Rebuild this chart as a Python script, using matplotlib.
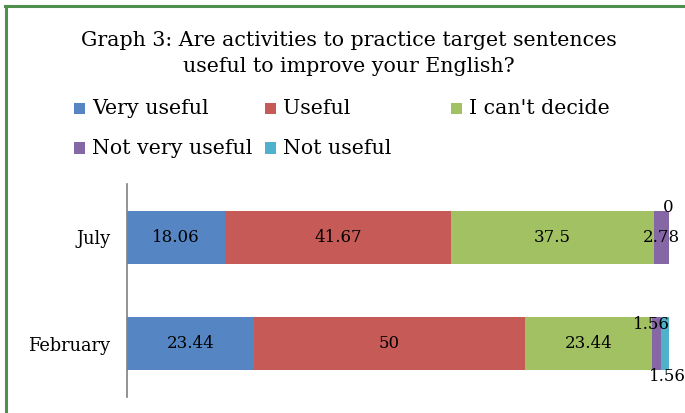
import matplotlib
matplotlib.use("Agg")
import matplotlib.pyplot as plt
from matplotlib.patches import Rectangle
from matplotlib.lines import Line2D

categories = ["February", "July"]
series_names = ["Very useful", "Useful", "I can't decide", "Not very useful", "Not useful"]
very_useful = [23.44, 18.06]
useful = [50, 41.67]
cant_decide = [23.44, 37.5]
not_very_useful = [1.56, 2.78]
not_useful = [1.56, 0]
colors = ["#5585C2", "#C55A56", "#A1C163", "#8567A6", "#4FB1CB"]

series = [very_useful, useful, cant_decide, not_very_useful, not_useful]

W, H = 685, 413
fig = plt.figure(figsize=(W / 100, H / 100), dpi=100)
plt.rcParams['font.family'] = ['DejaVu Serif']

def fx(px):
    return px / W

def fy(py):
    return 1 - py / H

ax = fig.add_axes([fx(127), fy(397), fx(669) - fx(127), fy(184) - fy(397)])

ypos = list(range(len(categories)))
left = [0.0] * len(categories)
bars = []
for vals, col in zip(series, colors):
    b = ax.barh(ypos, vals, left=left, height=0.5, color=col, edgecolor='none')
    bars.append(b)
    left = [l + v for l, v in zip(left, vals)]

ax.set_xlim(0, 100)
ax.set_ylim(-0.5, 1.5)
ax.set_yticks(ypos)
ax.set_yticklabels(categories, fontsize=12.8)
ax.tick_params(axis='y', length=0, pad=12)
ax.set_xticks([])
for s in ['top', 'right', 'bottom']:
    ax.spines[s].set_visible(False)
ax.spines['left'].set_color('#808080')
ax.spines['left'].set_linewidth(1.2)

lab_fs = 12
# labels for the three big segments, centered
for si in range(3):
    for ci, rect in enumerate(bars[si]):
        v = series[si][ci]
        cx = rect.get_x() + rect.get_width() / 2
        ax.text(cx, ci, f"{v:g}", ha='center', va='center', fontsize=lab_fs, color='black')

# small segment labels
# July (index 1)
r = bars[3][1]
ax.text(r.get_x() + r.get_width() / 2, 1, f"{not_very_useful[1]:g}", ha='center', va='center', fontsize=lab_fs)
r = bars[4][1]
ax.text(r.get_x() - 0.2, 1.28, f"{not_useful[1]:g}", ha='center', va='center', fontsize=lab_fs)
# February (index 0)
r = bars[3][0]
ax.text(r.get_x() + r.get_width() / 2 - 1.0, 0.18, f"{not_very_useful[0]:g}", ha='center', va='center', fontsize=lab_fs)
r = bars[4][0]
ax.text(r.get_x() + r.get_width() / 2 + 0.5, -0.31, f"{not_useful[0]:g}", ha='center', va='center', fontsize=lab_fs)

# title
fig.text(fx(349), fy(40), "Graph 3: Are activities to practice target sentences",
         ha='center', va='center', fontsize=14.8)
fig.text(fx(349), fy(67), "useful to improve your English?",
         ha='center', va='center', fontsize=14.8)

# legend (manual layout)
leg_pos = [(74, 108), (265, 108), (451, 108), (74, 148), (265, 148)]
for (px, py), name, col in zip(leg_pos, series_names, colors):
    fig.patches.append(Rectangle((fx(px), fy(py + 5.5)), fx(11), 11 / H,
                                 transform=fig.transFigure, facecolor=col, edgecolor='none'))
    fig.text(fx(px + 18), fy(py), name, ha='left', va='center', fontsize=14.8)

# green frame (left and top)
fig.add_artist(Line2D([fx(6), fx(6)], [fy(6), 0], transform=fig.transFigure, color='#4E8F4E', linewidth=2.2))
fig.add_artist(Line2D([fx(5), 1], [fy(6), fy(6)], transform=fig.transFigure, color='#4E8F4E', linewidth=2.2))

fig.savefig("out.png", dpi=100)
